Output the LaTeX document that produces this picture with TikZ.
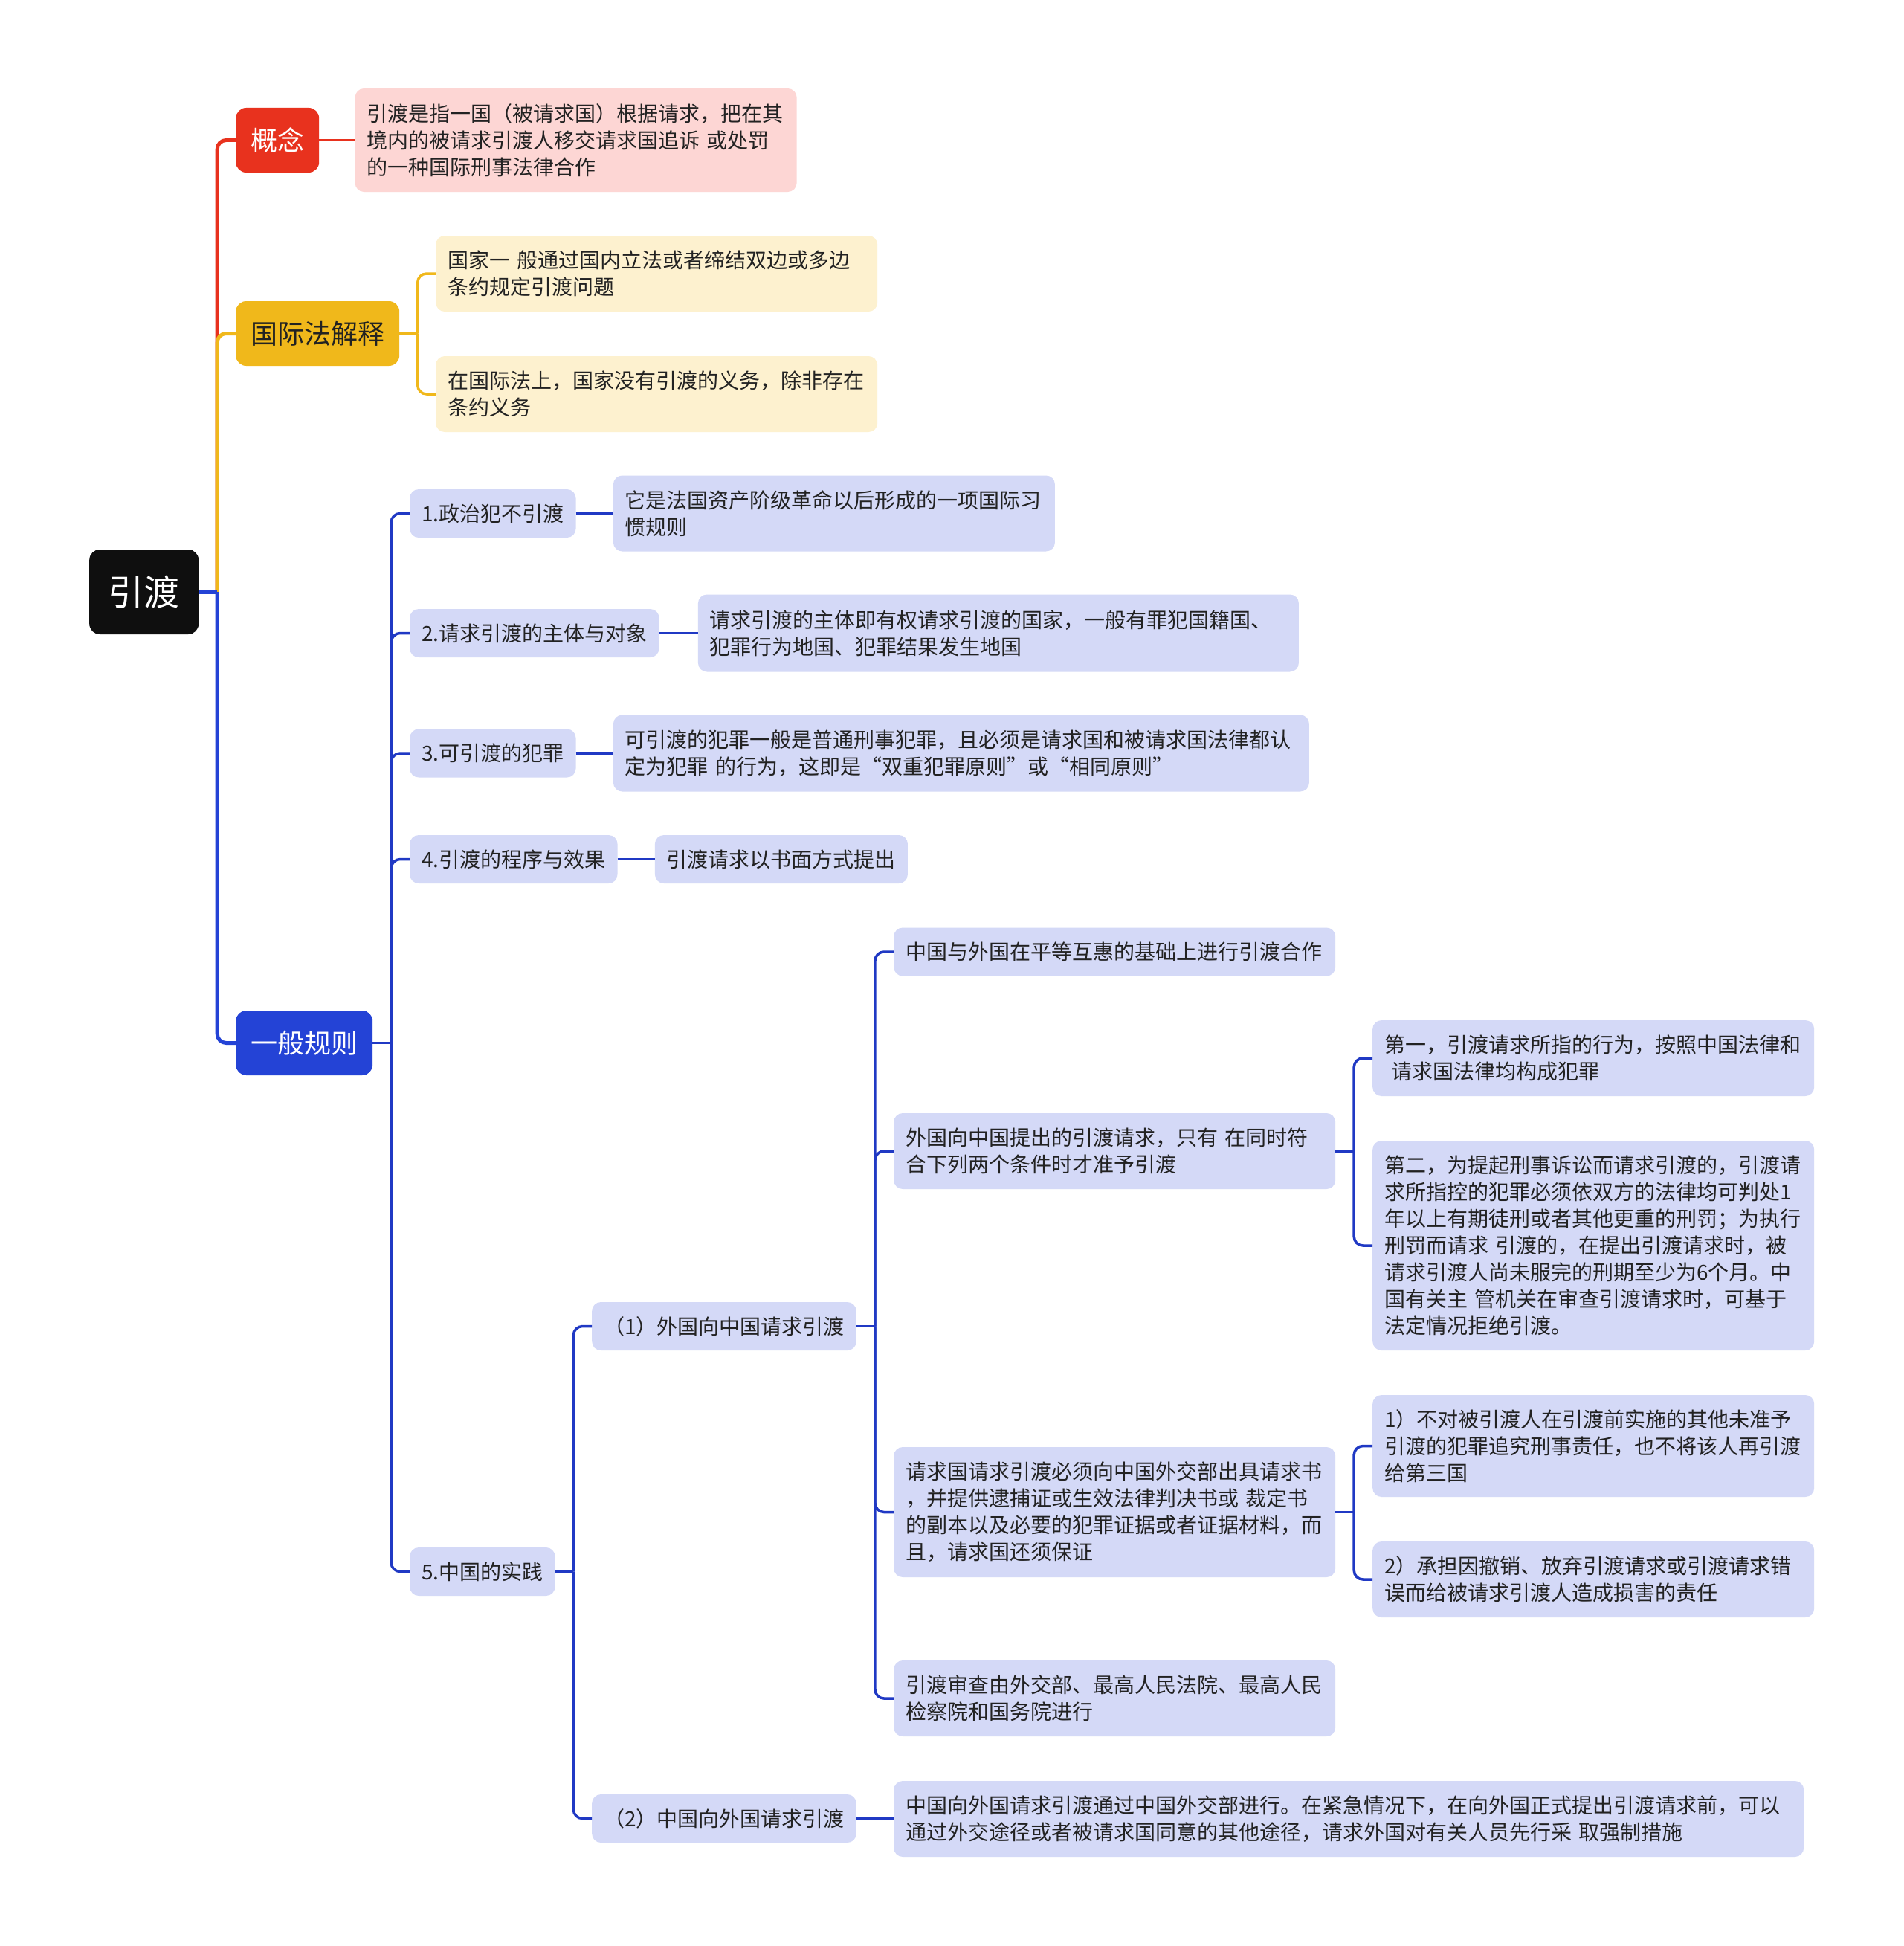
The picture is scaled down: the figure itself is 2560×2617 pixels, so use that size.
\documentclass[tikz,border=0pt]{standalone}
\usepackage{fontspec}
\setmainfont{Noto Sans CJK SC}
\usetikzlibrary{positioning,calc}

\definecolor{rootblack}{HTML}{0F0F0F}
\definecolor{conceptred}{HTML}{E8321E}
\definecolor{conceptpink}{HTML}{FDD6D4}
\definecolor{lawyellow}{HTML}{F0B81B}
\definecolor{lawcream}{HTML}{FDF1CF}
\definecolor{ruleblue}{HTML}{2443D6}
\definecolor{linkblue}{HTML}{2039C4}
\definecolor{leafblue}{HTML}{D4D9F7}
\definecolor{inkdark}{HTML}{222222}

% fork from a parent to one child: straight part, then a rounded bend
\newcommand{\branch}[3]{%
  \coordinate (fork) at ($(#2.east)!.5!(#2.east -| #3.west)$);
  \draw[#1] (#2.east) -- (fork);
  \draw[#1, rounded corners=12pt] (fork) |- (#3.west);
}

\begin{document}
\begin{tikzpicture}[x=1pt, y=-1pt,
    box/.style={rounded corners=12pt, align=left, inner xsep=16pt, inner ysep=6pt, text=inkdark, font=\fontsize{28pt}{36pt}\selectfont},
    topic/.style={rounded corners=14pt, inner xsep=20pt, minimum height=87pt, text=white, font=\fontsize{36pt}{44pt}\selectfont},
    sub/.style={box, fill=leafblue, minimum height=65pt},
    leaf/.style={box, fill=leafblue},
    trunk/.style={line width=5pt},
    twig/.style={line width=3.5pt, linkblue}]
\fill[white] (0,0) rectangle (2560,2617);

% main topics
\node[topic, fill=rootblack, font=\fontsize{48pt}{56pt}\selectfont, minimum width=147pt, minimum height=114pt, anchor=west] (root) at (120,796) {引渡};
\node[topic, fill=conceptred, anchor=west] (concept) at (317,188.5) {概念};
\node[topic, fill=lawyellow, text=inkdark, anchor=west] (intl) at (317,448.5) {国际法解释};
\node[topic, fill=ruleblue, anchor=west] (general) at (317,1402.5) {一般规则};

\node[box, fill=conceptpink, text width=562pt, minimum height=139pt, right=48pt of concept] (conceptdef) {引渡是指一国（被请求国）根据请求，把在其\\境内的被请求引渡人移交请求国追诉 或处罚\\的一种国际刑事法律合作};
\node[box, fill=lawcream, text width=562pt, minimum height=102pt, anchor=west] (intl1) at (586,368) {国家一 般通过国内立法或者缔结双边或多边\\条约规定引渡问题};
\node[box, fill=lawcream, text width=562pt, minimum height=102pt, anchor=west] (intl2) at (586,530) {在国际法上，国家没有引渡的义务，除非存在\\条约义务};

% general rules
\node[sub, anchor=west] (rule1) at (551,690.5) {1.政治犯不引渡};
\node[leaf, text width=562pt, minimum height=102pt, right=50pt of rule1] (rule1a) {它是法国资产阶级革命以后形成的一项国际习\\惯规则};
\node[sub, anchor=west] (rule2) at (551,851.5) {2.请求引渡的主体与对象};
\node[leaf, text width=776pt, minimum height=104pt, right=52pt of rule2] (rule2a) {请求引渡的主体即有权请求引渡的国家，一般有罪犯国籍国、\\犯罪行为地国、犯罪结果发生地国};
\node[sub, anchor=west] (rule3) at (551,1013) {3.可引渡的犯罪};
\node[leaf, text width=904pt, minimum height=103pt, right=50pt of rule3] (rule3a) {可引渡的犯罪一般是普通刑事犯罪，且必须是请求国和被请求国法律都认\\定为犯罪 的行为，这即是“双重犯罪原则”或“相同原则”};
\node[sub, anchor=west] (rule4) at (551,1155.5) {4.引渡的程序与效果};
\node[sub, right=50pt of rule4] (rule4a) {引渡请求以书面方式提出};
\node[sub, anchor=west] (rule5) at (551,2113.5) {5.中国的实践};

% practice of China
\node[sub, anchor=west] (req1) at (796,1783.5) {（1）外国向中国请求引渡};
\node[sub, anchor=west] (req2) at (796,2445.5) {（2）中国向外国请求引渡};
\node[leaf, text width=1192pt, minimum height=102pt, anchor=west] (req2a) at (1202,2446) {中国向外国请求引渡通过中国外交部进行。在紧急情况下，在向外国正式提出引渡请求前，可以\\通过外交途径或者被请求国同意的其他途径，请求外国对有关人员先行采 取强制措施};

\node[leaf, text width=562pt, minimum height=65pt, anchor=west] (ask1) at (1202,1280) {中国与外国在平等互惠的基础上进行引渡合作};
\node[leaf, text width=562pt, minimum height=102pt, anchor=west] (ask2) at (1202,1548) {外国向中国提出的引渡请求，只有 在同时符\\合下列两个条件时才准予引渡};
\node[leaf, text width=562pt, minimum height=175pt, anchor=west] (ask3) at (1202,2033.5) {请求国请求引渡必须向中国外交部出具请求书\\，并提供逮捕证或生效法律判决书或 裁定书\\的副本以及必要的犯罪证据或者证据材料，而\\且，请求国还须保证};
\node[leaf, text width=562pt, minimum height=102pt, anchor=west] (ask4) at (1202,2284) {引渡审查由外交部、最高人民法院、最高人民\\检察院和国务院进行};

\node[leaf, text width=562pt, minimum height=102pt, anchor=west] (cond1) at (1846,1423) {第一，引渡请求所指的行为，按照中国法律和\\~请求国法律均构成犯罪};
\node[leaf, text width=562pt, minimum height=282pt, anchor=west] (cond2) at (1846,1675) {第二，为提起刑事诉讼而请求引渡的，引渡请\\求所指控的犯罪必须依双方的法律均可判处1\\年以上有期徒刑或者其他更重的刑罚；为执行\\刑罚而请求 引渡的，在提出引渡请求时，被\\请求引渡人尚未服完的刑期至少为6个月。中\\国有关主 管机关在审查引渡请求时，可基于\\法定情况拒绝引渡。};
\node[leaf, text width=562pt, minimum height=137pt, anchor=west] (duty1) at (1846,1944.5) {1）不对被引渡人在引渡前实施的其他未准予\\引渡的犯罪追究刑事责任，也不将该人再引渡\\给第三国};
\node[leaf, text width=562pt, minimum height=102pt, anchor=west] (duty2) at (1846,2124) {2）承担因撤销、放弃引渡请求或引渡请求错\\误而给被请求引渡人造成损害的责任};

% connectors
\branch{trunk, conceptred}{root}{concept}
\branch{trunk, lawyellow}{root}{intl}
\branch{trunk, ruleblue}{root}{general}
\draw[line width=3.5pt, conceptred] (concept) -- (conceptdef);
\foreach \kid in {intl1,intl2} {\branch{line width=3.5pt, lawyellow}{intl}{\kid}}
\foreach \kid in {rule1,rule2,rule3,rule4,rule5} {\branch{twig}{general}{\kid}}
\foreach \kid in {1,2,3,4} {\draw[twig] (rule\kid) -- (rule\kid a);}
\foreach \kid in {req1,req2} {\branch{twig}{rule5}{\kid}}
\draw[twig] (req2) -- (req2a);
\foreach \kid in {ask1,ask2,ask3,ask4} {\branch{twig}{req1}{\kid}}
\foreach \kid in {cond1,cond2} {\branch{twig}{ask2}{\kid}}
\foreach \kid in {duty1,duty2} {\branch{twig}{ask3}{\kid}}
\end{tikzpicture}
\end{document}
